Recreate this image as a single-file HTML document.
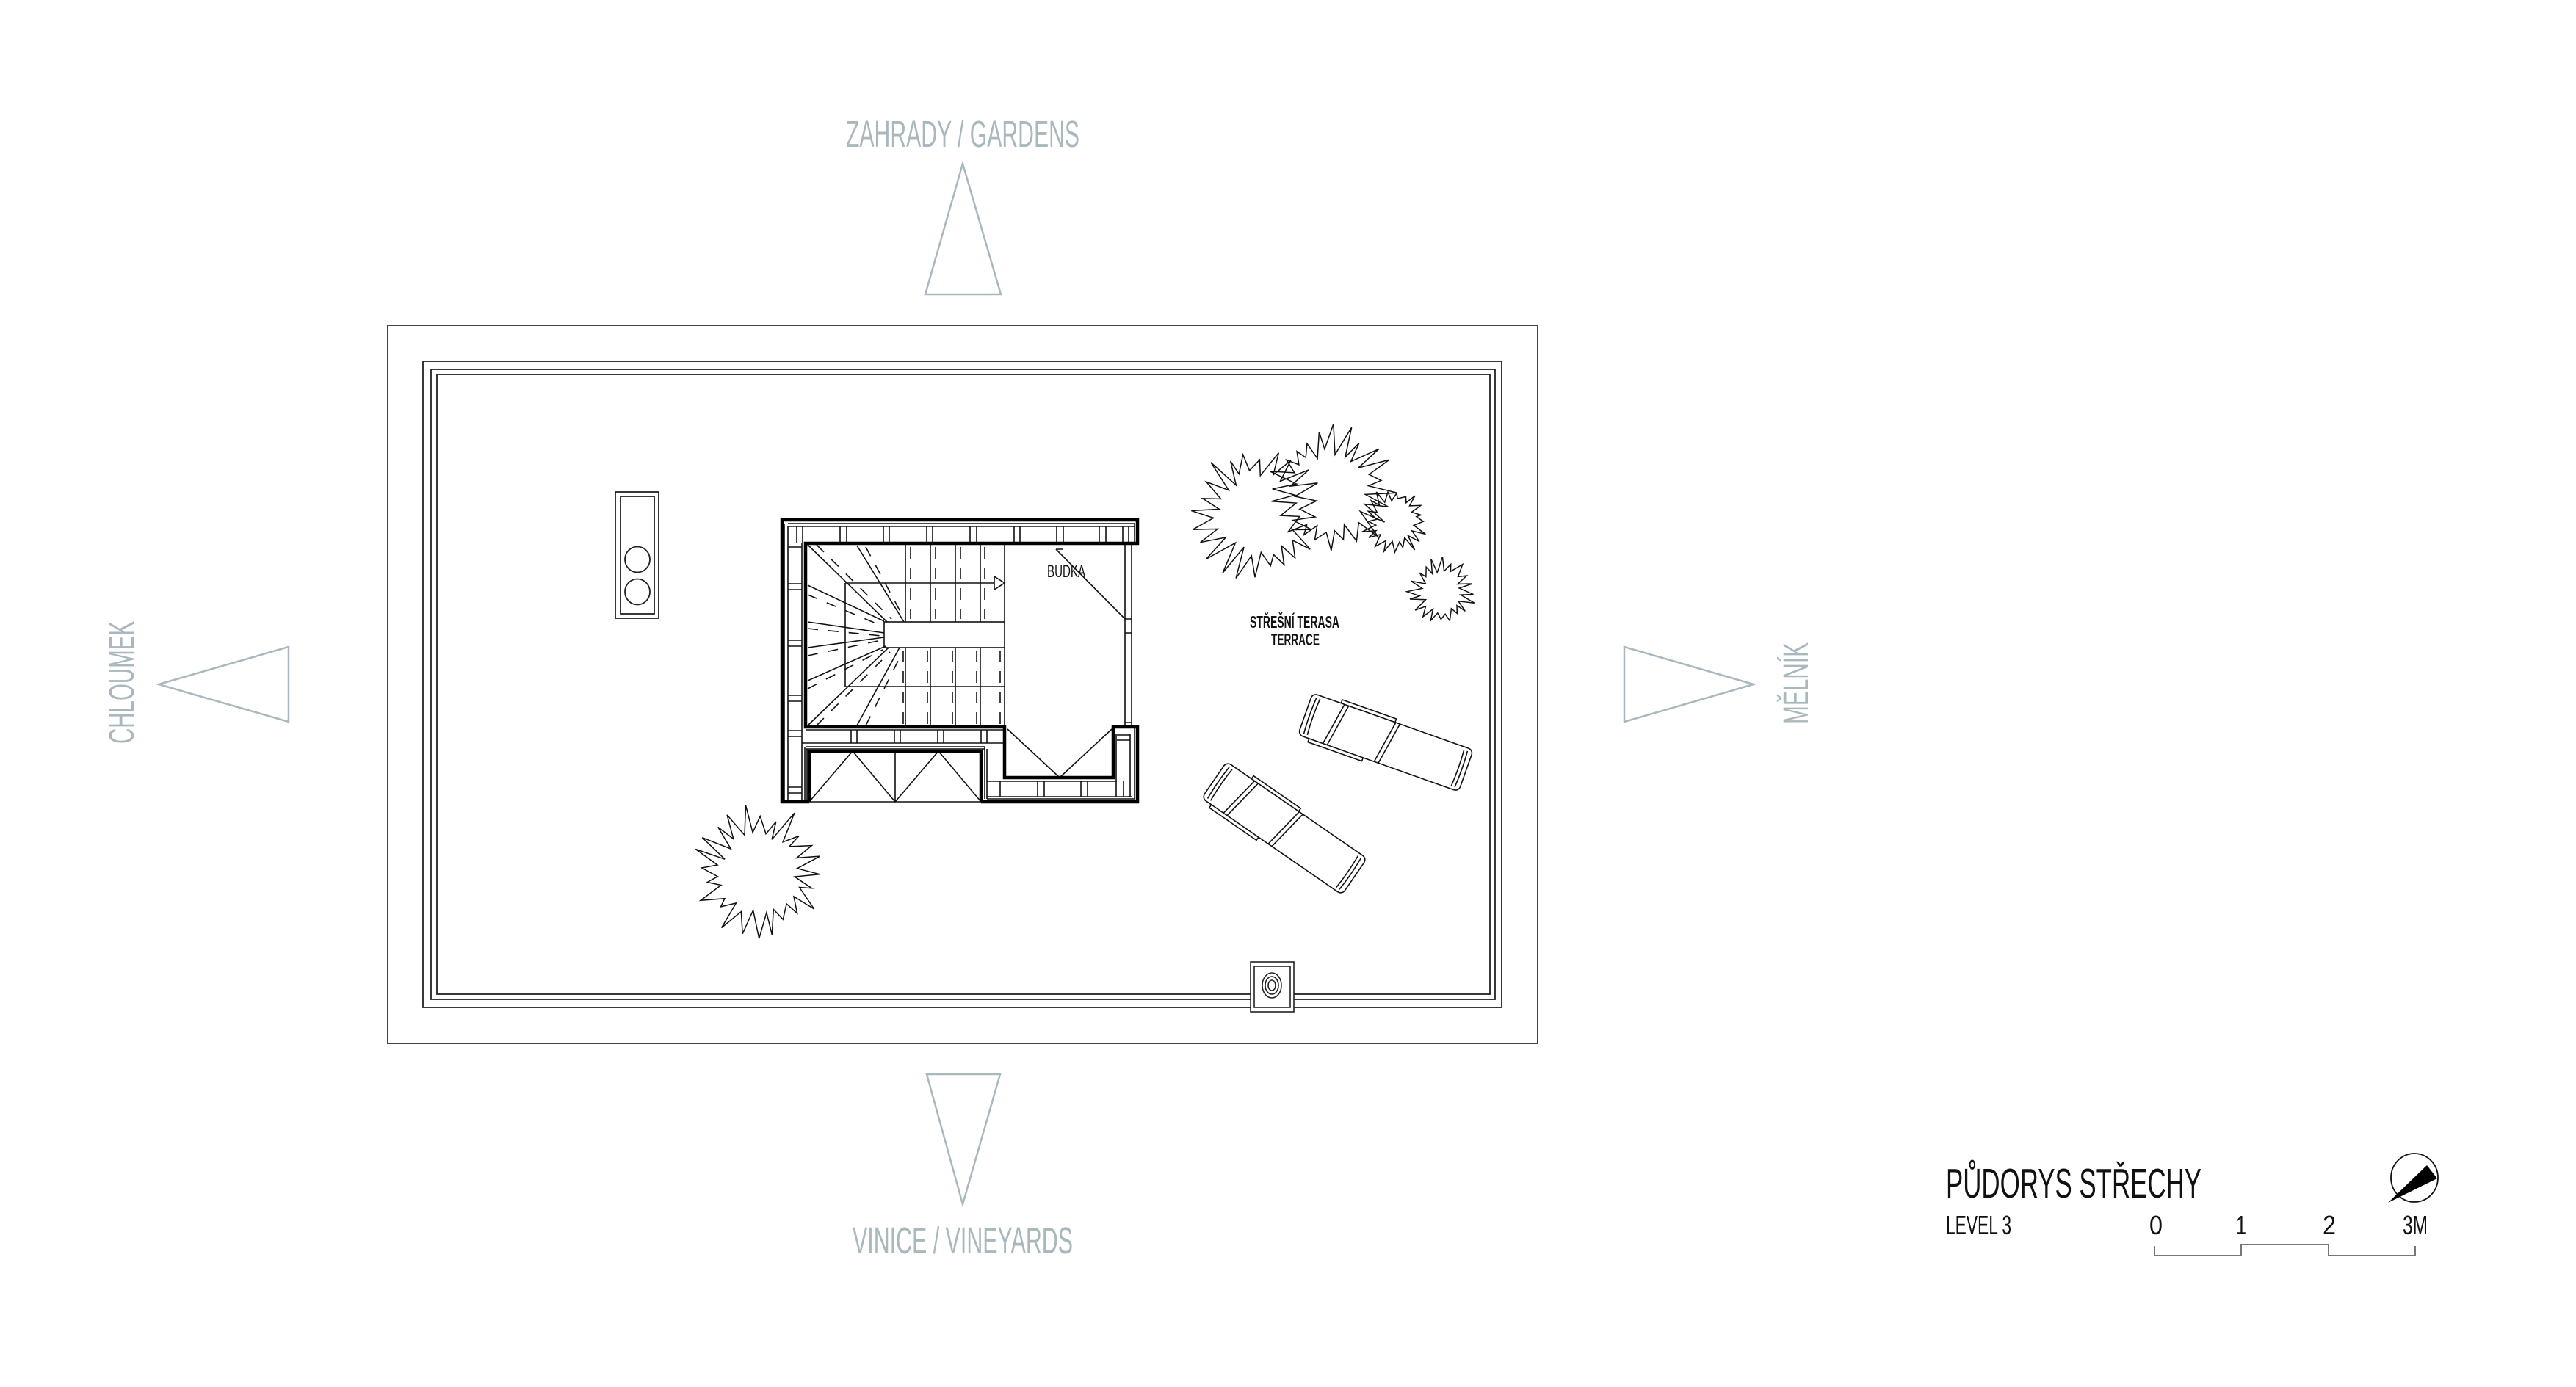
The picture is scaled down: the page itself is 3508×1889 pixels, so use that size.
<!DOCTYPE html>
<html><head><meta charset="utf-8">
<style>
html,body{margin:0;padding:0;background:#fff;}
svg{display:block;}
text{font-family:"Liberation Sans","DejaVu Sans",sans-serif;}
</style></head>
<body>
<svg id="s" width="3508" height="1889" viewBox="0 0 3508 1889" xmlns="http://www.w3.org/2000/svg">
<rect width="3508" height="1889" fill="#fff"/>

<!-- Compass -->
<g fill="none" stroke="#a9b8bd" stroke-width="2.5">
  <polygon points="1311,223 1260,401 1363,401"/>
  <polygon points="1311,1640 1262,1463 1362,1463"/>
  <polygon points="216,932 393,881 393,983"/>
  <polygon points="2388,932 2212,881 2212,983"/>
</g>
<g fill="#a9b8bd">
  <text x="1152" y="200" font-size="51" textLength="318" lengthAdjust="spacingAndGlyphs">ZAHRADY / GARDENS</text>
  <text x="1161" y="1707" font-size="51" textLength="300" lengthAdjust="spacingAndGlyphs">VINICE / VINEYARDS</text>
  <text transform="translate(182,1013) rotate(-90)" x="0" y="0" font-size="48" textLength="167" lengthAdjust="spacingAndGlyphs">CHLOUMEK</text>
  <text transform="translate(2462,986) rotate(-90)" x="0" y="0" font-size="48" textLength="111" lengthAdjust="spacingAndGlyphs">MĚLNÍK</text>
</g>

<!-- Roof outline -->
<g fill="none" stroke="#222" stroke-width="2">
  <rect x="528" y="443" width="1566" height="978" stroke="#444"/>
  <rect x="576" y="492" width="1469" height="880" stroke-width="1.8"/>
  <rect x="587" y="503" width="1449" height="858" stroke-width="1.8"/>
  <rect x="595" y="510" width="1434" height="844" stroke-width="1.8"/>
</g>

<!-- chimney -->
<g fill="#fff" stroke="#222" stroke-width="1.8">
  <rect x="838" y="670" width="59" height="172"/>
  <rect x="845" y="676" width="46" height="160"/>
  <ellipse cx="868" cy="762" rx="17" ry="17.5"/>
  <ellipse cx="868" cy="806" rx="17" ry="17.5"/>
</g>

<!-- drain -->
<g fill="#fff" stroke="#222" stroke-width="1.6">
  <rect x="1703" y="1310" width="59" height="68"/>
  <rect x="1708" y="1316" width="49" height="56"/>
  <ellipse cx="1732" cy="1342" rx="13" ry="17"/>
  <ellipse cx="1732" cy="1342" rx="9" ry="12"/>
  <ellipse cx="1732" cy="1342" rx="5" ry="7"/>
</g>

<!-- staircase block -->
<g fill="none" stroke="#111" stroke-width="1.6">
  <line x1="1073" y1="717" x2="1545" y2="717"/>
  <line x1="1073" y1="713" x2="1545" y2="713"/>
  <line x1="1068" y1="713" x2="1068" y2="1090"/>
  <line x1="1073" y1="717" x2="1073" y2="1090"/>
  <line x1="1092" y1="740" x2="1092" y2="1090"/>
  <line x1="1545" y1="713" x2="1545" y2="740"/>
  <path d="M1085 717V740M1093 717V740M1144 717V740M1153 717V740M1203 717V740M1211 717V740M1262 717V740M1270 717V740M1321 717V740M1330 717V740M1381 717V740M1389 717V740M1439 717V740M1448 717V740M1497 717V740M1506 717V740M1529 717V740M1537 717V740"/>
  <path d="M1073 745H1092M1073 795H1092M1073 803H1092M1073 872H1092M1073 880H1092M1073 947H1092M1073 955H1092M1073 995H1092M1073 1003H1092M1073 1072H1092M1073 1080H1092"/>
  <path d="M1233 740V847M1267 740V847M1301 740V847M1335 740V847M1233 882V990M1267 882V990M1301 882V990M1335 882V990"/>
  <path d="M1240 745V843M1274 745V843M1308 745V843M1341 745V843M1230 886V987M1263 886V987M1297 886V987M1362 886V987M1330 886V987" stroke-dasharray="16 12"/>
  <line x1="1368" y1="740" x2="1368" y2="990"/>
  <rect x="1204" y="847" width="164" height="35" fill="#fff"/>
  <path d="M1151 794H1368M1151 794V935M1151 935H1368"/>
  <polygon points="1354,785 1368,794 1354,803" fill="#fff"/>
  <path d="M1100 742L1208 847M1167 743L1231 847M1100 797L1204 846M1100 847L1204 862M1100 882L1204 868M1100 927L1206 880M1100 988L1210 882M1167 988L1225 882"/>
  <path d="M1112 742L1214 843M1179 745L1232 844M1100 810L1200 852M1100 856L1200 866M1100 893L1200 872M1100 938L1202 885M1112 988L1212 888M1179 988L1229 888" stroke-dasharray="14 14"/>
  <line x1="1532" y1="740" x2="1532" y2="990"/>
  <line x1="1541" y1="740" x2="1541" y2="990"/>
  <path d="M1532 843H1541M1532 862H1541M1532 984H1541"/>
  <path d="M1438 748H1448M1438 748L1532 843"/>
  <path d="M1097 994H1368M1092 1012H1368M1097 1017H1341M1097 1020H1341"/>
  <path d="M1159 994V1012M1167 994V1012M1218 994V1012M1226 994V1012M1277 994V1012M1285 994V1012M1336 994V1012M1344 994V1012"/>
  <path d="M1096 1017V1092M1099 1020V1092M1341 1017V1088M1344 1020V1088"/>
  <path d="M1102 1092H1336"/>
  <path d="M1102 1092L1161 1023L1219 1092L1278 1023L1336 1092M1219 1023V1092"/>
  <path d="M1372 993L1443 1059L1514 993"/>
  <path d="M1344 1064H1521M1344 1085H1541M1344 1088H1545M1520 1000V1085M1539 1000V1085M1545 990V1088M1521 1001H1539M1521 1008H1539"/>
  <path d="M1413 1064V1085M1422 1064V1085M1472 1064V1085M1481 1064V1085M1362 1064V1085M1530 1064V1085"/>
</g>
<g fill="none" stroke="#000" stroke-width="4.5" stroke-linejoin="miter">
  <path d="M1102 1092H1065V708H1549V740H1097V990H1368V1059H1516V990H1549V1092H1336"/>
  <path d="M1102 1092V1023H1336V1092"/>
</g>
<text x="1426" y="786" font-size="24" textLength="52" lengthAdjust="spacingAndGlyphs" fill="#111">BUDKA</text>
<text x="1702" y="855" font-size="23" font-weight="bold" textLength="122" lengthAdjust="spacingAndGlyphs" fill="#111">STŘEŠNÍ TERASA</text>
<text x="1731" y="879" font-size="23" font-weight="bold" textLength="66" lengthAdjust="spacingAndGlyphs" fill="#111">TERRACE</text>

<!-- trees -->
<g id="trees" fill="none" stroke="#111" stroke-width="1.5"></g>

<!-- loungers -->
<defs>
<g id="lounger" fill="#fff" stroke="#111" stroke-width="1.6">
  <rect x="-75" y="-35" width="78" height="8"/>
  <rect x="-100" y="27" width="78" height="8"/>
  <rect x="-116" y="-30" width="232" height="60" rx="7"/>
  <path d="M-109 -26Q-111 0 -109 26M-104 -26Q-106 0 -104 26" />
  <path d="M109 -26Q111 0 109 26M104 -26Q106 0 104 26"/>
  <path d="M-70 -30L-80 30M-64 -30L-74 30"/>
  <path d="M4 -30L-6 30M10 -30L0 30"/>
</g>
</defs>
<use href="#lounger" transform="translate(1887,1011) rotate(19.5)"/>
<use href="#lounger" transform="translate(1749,1128) rotate(34.6)"/>

<!-- title block -->
<text x="2650" y="1631" font-size="57" textLength="348" lengthAdjust="spacingAndGlyphs" fill="#111">PŮDORYS STŘECHY</text>
<text x="2650" y="1681" font-size="36" textLength="89" lengthAdjust="spacingAndGlyphs" fill="#111">LEVEL 3</text>
<g font-size="36" fill="#111">
  <text x="2927" y="1681" textLength="18" lengthAdjust="spacingAndGlyphs">0</text>
  <text x="3045" y="1681" textLength="14" lengthAdjust="spacingAndGlyphs">1</text>
  <text x="3163" y="1681" textLength="18" lengthAdjust="spacingAndGlyphs">2</text>
  <text x="3272" y="1681" textLength="34" lengthAdjust="spacingAndGlyphs">3M</text>
</g>
<path d="M2934 1697V1710H3052V1695H3171V1710H3289V1697" fill="none" stroke="#777" stroke-width="2"/>
<ellipse cx="3288" cy="1604" rx="32" ry="33" fill="none" stroke="#111" stroke-width="1.8"/>
<polygon points="3305,1587 3319,1605 3252,1638" fill="#000"/>
</svg>
<script>
(function(){
  var g=document.getElementById('trees');
  var seed=11;function rnd(){seed=(seed*9301+49297)%233280;return seed/233280;}
  function tree(cx,cy,r,n){
    var d='';
    for(var i=0;i<n;i++){
      var a=(i+rnd()*0.3)/n*Math.PI*2, a2=(i+0.5+(rnd()-0.5)*0.4)/n*Math.PI*2;
      var ro=r*(0.9+rnd()*0.3), ri=r*(0.6+rnd()*0.18);
      var x1=cx+Math.cos(a)*ro, y1=cy+Math.sin(a)*ro;
      var x2=cx+Math.cos(a2)*ri, y2=cy+Math.sin(a2)*ri;
      d+=(i?'L':'M')+x1.toFixed(1)+' '+y1.toFixed(1)+'L'+x2.toFixed(1)+' '+y2.toFixed(1);
    }
    var p=document.createElementNS('http://www.w3.org/2000/svg','path');
    p.setAttribute('d',d+'Z');g.appendChild(p);
  }
  tree(1712,700,80,24);
  tree(1813,667,76,24);
  tree(1900,710,40,20);
  tree(1963,806,40,20);
  tree(1034,1187,78,24);
})();
</script>
</body></html>
